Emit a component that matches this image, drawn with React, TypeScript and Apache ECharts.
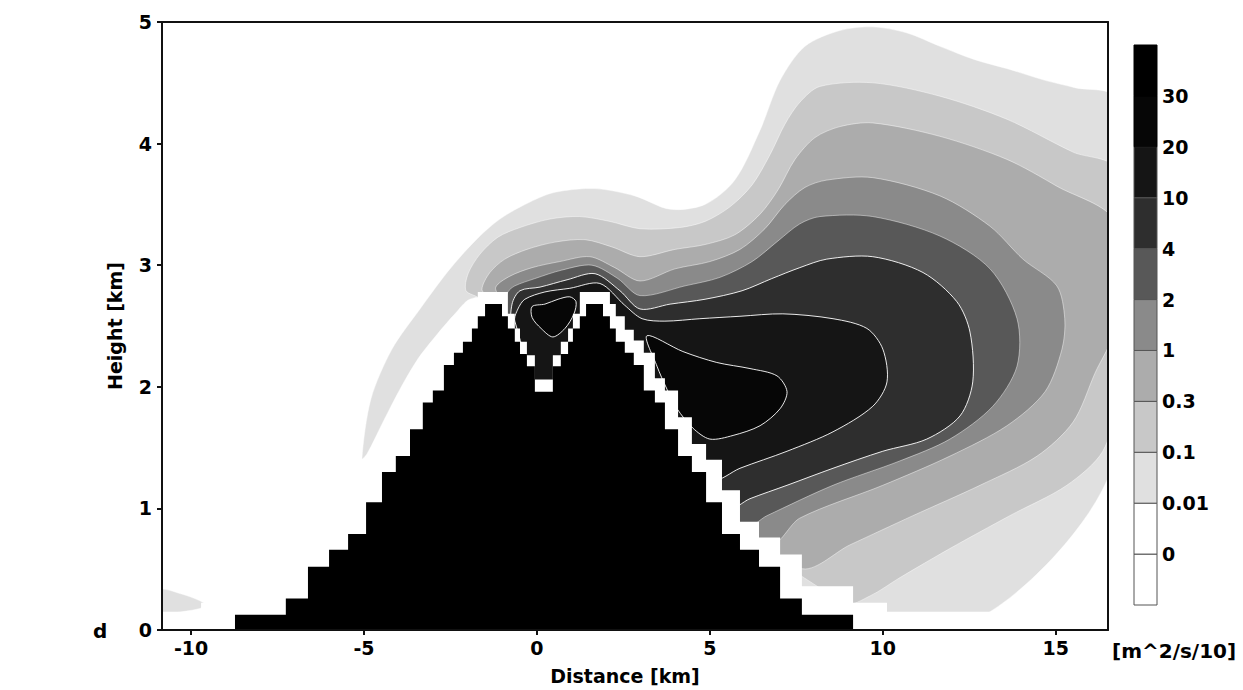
import React, { useEffect, useRef } from "react";
import * as echarts from "echarts";

// ---------- axes ----------
const X_MIN = -10.84;
const X_MAX = 16.51;
const Y_MIN = 0;
const Y_MAX = 5;
const xTicks = [-10, -5, 0, 5, 10, 15];

// ---------- colour bar ----------
const cbBoundaryLabels = ["", "0", "0.01", "0.1", "0.3", "1", "2", "4", "10", "20", "30", ""];
const cbColors = ["#ffffff", "#ffffff", "#e0e0e0", "#c8c8c8", "#acacac", "#8a8a8a", "#585858", "#2e2e2e", "#151515", "#060606", "#000000"];

// ---------- terrain (staircase) ----------
const terrainEdges = [
  -8.73, -7.26, -6.62, -6.01, -5.46, -4.94, -4.48, -4.08, -3.67, -3.3, -3.01, -2.69, -2.4, -2.14, -1.88, -1.71, -1.5,
  -1.01, -0.84, -0.64, -0.49, -0.29, -0.06, 0.46, 0.69, 0.9, 1.04, 1.24, 1.42, 1.91, 2.11, 2.28, 2.54, 2.8, 3.09, 3.41,
  3.7, 4.08, 4.48, 4.89, 5.35, 5.87, 6.42, 7.03, 7.66, 9.14,
];
const terrainHeights = [
  0.125, 0.26, 0.52, 0.66, 0.79, 1.05, 1.3, 1.43, 1.65, 1.87, 1.97, 2.18, 2.28, 2.37, 2.48, 2.58, 2.68, 2.58, 2.48, 2.37,
  2.27, 2.17, 1.96, 2.17, 2.27, 2.37, 2.48, 2.58, 2.68, 2.58, 2.48, 2.37, 2.28, 2.18, 1.97, 1.87, 1.65, 1.43, 1.3, 1.05,
  0.79, 0.66, 0.52, 0.26, 0.125,
];
// white (masked) cells round the terrain
const maskEdges = [
  -9.71, -8.73, -7.26, -6.62, -6.01, -5.46, -4.94, -4.48, -4.08, -3.67, -3.3, -3.01, -2.69, -2.4, -2.14, -1.88, -1.71,
  -1.5, -1.01, -0.84, -0.64, -0.49, -0.29, -0.06, 0.46, 0.69, 0.9, 1.04, 1.24, 1.42, 1.91, 2.11, 2.28, 2.54, 2.8, 3.09,
  3.41, 3.7, 4.08, 4.48, 4.89, 5.35, 5.87, 6.42, 7.03, 7.66, 9.14, 10.12,
];
const maskHeights = [
  0.225, 0.36, 0.62, 0.76, 0.89, 1.15, 1.4, 1.53, 1.75, 1.97, 2.07, 2.28, 2.38, 2.47, 2.58, 2.68, 2.78, 2.78, 2.78, 2.6,
  2.48, 2.37, 2.26, 2.06, 2.26, 2.37, 2.48, 2.6, 2.78, 2.78, 2.78, 2.68, 2.58, 2.47, 2.38, 2.28, 2.07, 1.97, 1.75, 1.53,
  1.4, 1.15, 0.89, 0.76, 0.62, 0.36, 0.225,
];
const maskFloor = 0.15;

// ---------- contour regions (value above level), km coordinates ----------
const levelColors = ["#ffffff", "#e0e0e0", "#c8c8c8", "#acacac", "#8a8a8a", "#585858", "#2e2e2e", "#151515", "#060606"];

const L1_main = [
  [-5.06, 1.41], [-4.8, 1.9], [-4.19, 2.31], [-3.38, 2.64], [-2.57, 2.95], [-1.79, 3.2], [-1.07, 3.38], [-0.2, 3.52],
  [0.52, 3.6], [1.68, 3.63], [2.83, 3.57], [3.85, 3.46], [4.86, 3.5], [5.72, 3.7], [6.45, 4.11], [7.03, 4.52],
  [7.75, 4.8], [8.76, 4.93], [9.71, 4.96], [10.7, 4.91], [11.65, 4.8], [12.66, 4.69], [13.67, 4.61], [14.69, 4.52],
  [15.55, 4.46], [16.7, 4.37], [16.7, 1.41], [13.1, 0.15], [9.63, 0.15], [4.71, 0.26], [0.66, 1.74], [-1.36, 2.72],
  [-1.94, 2.72], [-2.37, 2.6], [-2.89, 2.43], [-3.44, 2.23], [-3.96, 1.98], [-4.45, 1.71], [-4.91, 1.45],
];
const L1_blob = [[-10.9, 0.33], [-10.32, 0.3], [-9.74, 0.24], [-9.57, 0.2], [-10.03, 0.16], [-10.9, 0.15]];
const L2 = [
  [-1.65, 2.72], [-2.05, 2.79], [-1.99, 2.93], [-1.65, 3.09], [-1.13, 3.23], [-0.49, 3.31], [0.38, 3.38], [1.24, 3.4],
  [2.11, 3.36], [2.98, 3.3], [4.13, 3.31], [4.86, 3.36], [5.58, 3.48], [6.22, 3.66], [6.74, 3.91], [7.17, 4.16],
  [7.6, 4.34], [8.18, 4.47], [9.71, 4.5], [11.65, 4.39], [13.59, 4.2], [15.5, 3.93], [16.7, 3.79], [16.7, 1.86],
  [16.36, 1.47], [15.32, 1.19], [13.67, 0.94], [11.94, 0.67], [10.49, 0.43], [9.63, 0.28], [8.9, 0.22], [2.4, 1.49],
  [0.23, 1.9], [-1.65, 2.56],
];
const L3 = [
  [-1.36, 2.72], [-1.59, 2.8], [-1.36, 2.94], [-0.93, 3.05], [-0.29, 3.13], [0.52, 3.19], [1.39, 3.21], [2.17, 3.15],
  [2.98, 3.07], [3.99, 3.13], [4.86, 3.17], [5.72, 3.25], [6.45, 3.42], [6.97, 3.62], [7.46, 3.87], [8.04, 4.05],
  [8.76, 4.14], [9.71, 4.17], [11.65, 4.06], [13.59, 3.87], [15.03, 3.65], [16.7, 3.36], [16.7, 2.48], [16.13, 2.11],
  [15.5, 1.71], [14.46, 1.43], [12.81, 1.19], [10.87, 0.94], [9.05, 0.7], [7.6, 0.51], [2.4, 1.49], [0.23, 1.9],
  [-1.36, 2.56],
];
const L4 = [
  [-1.07, 2.72], [-1.19, 2.82], [-0.78, 2.91], [-0.14, 2.98], [0.66, 3.03], [1.53, 3.07], [2.25, 2.98], [2.98, 2.87],
  [3.99, 2.97], [5.0, 3.03], [5.87, 3.13], [6.59, 3.3], [7.17, 3.5], [7.75, 3.64], [8.38, 3.7], [9.71, 3.72],
  [11.65, 3.57], [13.1, 3.32], [14.05, 3.05], [15.03, 2.83], [15.26, 2.56], [15.18, 2.31], [14.69, 1.96], [13.59, 1.68],
  [11.94, 1.43], [10.0, 1.19], [7.6, 0.92], [6.74, 0.71], [2.4, 1.49], [0.23, 1.9], [-0.93, 2.56],
];
const L5 = [
  [-0.93, 2.68], [-0.84, 2.78], [-0.64, 2.83], [-0.06, 2.89], [0.72, 2.96], [1.59, 3.0], [2.34, 2.89], [2.98, 2.75],
  [4.28, 2.83], [5.29, 2.9], [6.22, 3.03], [6.97, 3.2], [7.6, 3.34], [8.18, 3.4], [9.71, 3.4], [11.65, 3.24],
  [13.1, 2.97], [13.88, 2.56], [13.88, 2.17], [13.18, 1.84], [11.94, 1.57], [10.49, 1.39], [8.56, 1.19], [6.65, 0.94],
  [6.01, 0.85], [2.4, 1.49], [0.23, 1.9], [-0.93, 2.56],
];
const L6 = [
  [-0.72, 2.68], [-0.49, 2.79], [0.09, 2.82], [0.87, 2.88], [1.68, 2.93], [2.4, 2.79], [2.98, 2.64], [3.85, 2.68],
  [4.86, 2.72], [5.93, 2.79], [6.79, 2.89], [7.6, 2.98], [8.38, 3.05], [9.71, 3.07], [11.16, 2.94], [12.14, 2.7],
  [12.52, 2.45], [12.6, 2.04], [12.23, 1.76], [11.27, 1.57], [10.0, 1.47], [8.56, 1.33], [7.23, 1.19], [6.16, 1.08],
  [5.52, 1.0], [2.4, 1.49], [0.23, 1.9], [-0.72, 2.48],
];
const L7 = [
  [-0.64, 2.54], [-0.55, 2.64], [-0.35, 2.72], [0.23, 2.78], [0.95, 2.81], [1.82, 2.85], [2.54, 2.67], [3.04, 2.56],
  [3.7, 2.54], [4.71, 2.56], [5.87, 2.58], [7.11, 2.6], [8.56, 2.56], [9.54, 2.48], [10.0, 2.31], [10.12, 2.04],
  [9.71, 1.84], [8.56, 1.63], [7.23, 1.47], [5.87, 1.33], [5.06, 1.23], [2.4, 1.49], [0.23, 1.9],
];
const L8_valley = [
  [-0.14, 2.66], [0.23, 2.68], [0.61, 2.72], [0.95, 2.74], [1.13, 2.7], [1.07, 2.6], [0.81, 2.48], [0.46, 2.41],
  [0.12, 2.48], [-0.14, 2.57],
];
const L8_core = [
  [3.18, 2.42], [4.22, 2.29], [5.2, 2.2], [6.16, 2.15], [6.94, 2.09], [7.23, 1.96], [7.03, 1.82], [6.45, 1.68],
  [5.67, 1.6], [5.0, 1.57], [4.51, 1.66], [4.05, 1.82], [3.76, 1.98], [3.47, 2.17],
];

const contourPolys = [L1_main, L1_blob, L2, L3, L4, L5, L6, L7, L8_valley, L8_core];
const contourLevel = [1, 1, 2, 3, 4, 5, 6, 7, 8, 8];

const FONT = '"DejaVu Sans", "Liberation Sans", sans-serif';

function staircase(edges: number[], heights: number[]) {
  const pts: number[][] = [[edges[0], 0]];
  for (let i = 0; i < heights.length; i++) {
    pts.push([edges[i], heights[i]]);
    pts.push([edges[i + 1], heights[i]]);
  }
  pts.push([edges[edges.length - 1], 0]);
  return pts;
}

function clipOf(params: any) {
  const c = params.coordSys;
  return { type: "rect", shape: { x: c.x, y: c.y, width: c.width, height: c.height } };
}

export default function App() {
  const ref = useRef<HTMLDivElement>(null);

  useEffect(() => {
    if (!ref.current) return;
    const chart = echarts.init(ref.current, undefined, { renderer: "svg" });

    const labelStyle = { fontFamily: FONT, fontWeight: "bold", fontSize: 19, color: "#000" };

    const option: any = {
      animation: false,
      backgroundColor: "#ffffff",
      grid: [
        { left: 162, top: 22, width: 946, height: 610, containLabel: false },
        { left: 1134, top: 45, width: 23, height: 560, containLabel: false },
      ],
      xAxis: [
        {
          gridIndex: 0,
          type: "value",
          min: X_MIN,
          max: X_MAX,
          position: "bottom",
          z: 10,
          axisLine: { show: true, onZero: false, lineStyle: { color: "#111", width: 2 } },
          axisTick: { show: true, customValues: xTicks, length: 5, lineStyle: { color: "#111", width: 2 } },
          axisLabel: {
            ...labelStyle,
            customValues: xTicks,
            margin: 8,
            formatter: (v: number) => String(v),
          },
          splitLine: { show: false },
          name: "Distance [km]",
          nameLocation: "middle",
          nameGap: 36,
          nameTextStyle: { ...labelStyle, padding: [0, 20, 0, 0] },
        },
        { gridIndex: 1, type: "value", min: 0, max: 1, show: false },
        {
          gridIndex: 0,
          type: "value",
          min: X_MIN,
          max: X_MAX,
          position: "top",
          z: 10,
          axisLine: { show: true, onZero: false, lineStyle: { color: "#111", width: 2 } },
          axisTick: { show: false },
          axisLabel: { show: false },
          splitLine: { show: false },
        },
      ],
      yAxis: [
        {
          gridIndex: 0,
          type: "value",
          min: Y_MIN,
          max: Y_MAX,
          interval: 1,
          position: "left",
          z: 10,
          axisLine: { show: true, onZero: false, lineStyle: { color: "#111", width: 2 } },
          axisTick: { show: true, length: 5, lineStyle: { color: "#111", width: 2 } },
          axisLabel: { ...labelStyle, margin: 10 },
          splitLine: { show: false },
          name: "Height [km]",
          nameLocation: "middle",
          nameGap: 38,
          nameTextStyle: { ...labelStyle },
        },
        {
          gridIndex: 1,
          type: "value",
          min: 0,
          max: 11,
          interval: 1,
          position: "right",
          axisLine: { show: false },
          axisTick: { show: false },
          splitLine: { show: false },
          axisLabel: {
            ...labelStyle,
            margin: 5,
            showMinLabel: true,
            showMaxLabel: true,
            formatter: (v: number) => cbBoundaryLabels[Math.round(v)] ?? "",
          },
        },
        {
          gridIndex: 0,
          type: "value",
          min: Y_MIN,
          max: Y_MAX,
          position: "right",
          z: 10,
          axisLine: { show: true, onZero: false, lineStyle: { color: "#111", width: 2 } },
          axisTick: { show: false },
          axisLabel: { show: false },
          splitLine: { show: false },
        },
      ],
      graphic: [
        { type: "text", left: 93, top: 621, style: { text: "d", font: `bold 20px ${FONT}`, fill: "#000" } },
        { type: "text", left: 1112, top: 641, style: { text: "[m^2/s/10]", font: `bold 20px ${FONT}`, fill: "#000" } },
      ],
      series: [
        {
          type: "custom",
          name: "contours",
          xAxisIndex: 0,
          yAxisIndex: 0,
          z: 1,
          silent: true,
          data: contourPolys.map((_, i) => [i, 0]),
          renderItem: (params: any, api: any) => {
            const i = api.value(0);
            const lvl = contourLevel[i];
            const pts = contourPolys[i].map((p) => api.coord(p));
            return {
              type: "group",
              clipPath: clipOf(params),
              children: [
                {
                  type: "polygon",
                  shape: { points: pts, smooth: 0.3 },
                  style: {
                    fill: levelColors[lvl],
                    stroke: lvl >= 6 ? "rgba(255,255,255,0.9)" : "rgba(255,255,255,0.45)",
                    lineWidth: 1,
                  },
                },
              ],
            };
          },
        },
        {
          type: "custom",
          name: "mask",
          xAxisIndex: 0,
          yAxisIndex: 0,
          z: 3,
          silent: true,
          data: [[0, 0], [1, 0]],
          renderItem: (params: any, api: any) => {
            const i = api.value(0);
            if (i === 0) {
              const pts = staircase(maskEdges, maskHeights).map((p) => api.coord(p));
              return { type: "polygon", shape: { points: pts }, style: { fill: "#ffffff" } };
            }
            const p0 = api.coord([X_MIN, maskFloor]);
            const p1 = api.coord([X_MAX, 0]);
            return {
              type: "rect",
              shape: { x: p0[0], y: p0[1], width: p1[0] - p0[0], height: p1[1] - p0[1] },
              style: { fill: "#ffffff" },
            };
          },
        },
        {
          type: "custom",
          name: "terrain",
          xAxisIndex: 0,
          yAxisIndex: 0,
          z: 4,
          silent: true,
          data: [[0, 0]],
          renderItem: (params: any, api: any) => {
            const pts = staircase(terrainEdges, terrainHeights).map((p) => api.coord(p));
            return { type: "polygon", shape: { points: pts }, style: { fill: "#000000" } };
          },
        },
        {
          type: "custom",
          name: "colorbar",
          xAxisIndex: 1,
          yAxisIndex: 1,
          z: 2,
          silent: true,
          data: cbColors.map((_, i) => [0, i]),
          renderItem: (params: any, api: any) => {
            const i = api.value(1);
            const p0 = api.coord([0, i + 1]);
            const p1 = api.coord([1, i]);
            return {
              type: "rect",
              shape: { x: p0[0], y: p0[1], width: p1[0] - p0[0], height: p1[1] - p0[1] },
              style: { fill: cbColors[i], stroke: i >= 9 ? "#000" : "#555", lineWidth: 1 },
            };
          },
        },
      ],
    };

    chart.setOption(option);
    return () => chart.dispose();
  }, []);

  return (
    <div
      ref={ref}
      style={{ position: "fixed", left: 0, top: 0, width: 1243, height: 690, background: "#fff" }}
    />
  );
}
